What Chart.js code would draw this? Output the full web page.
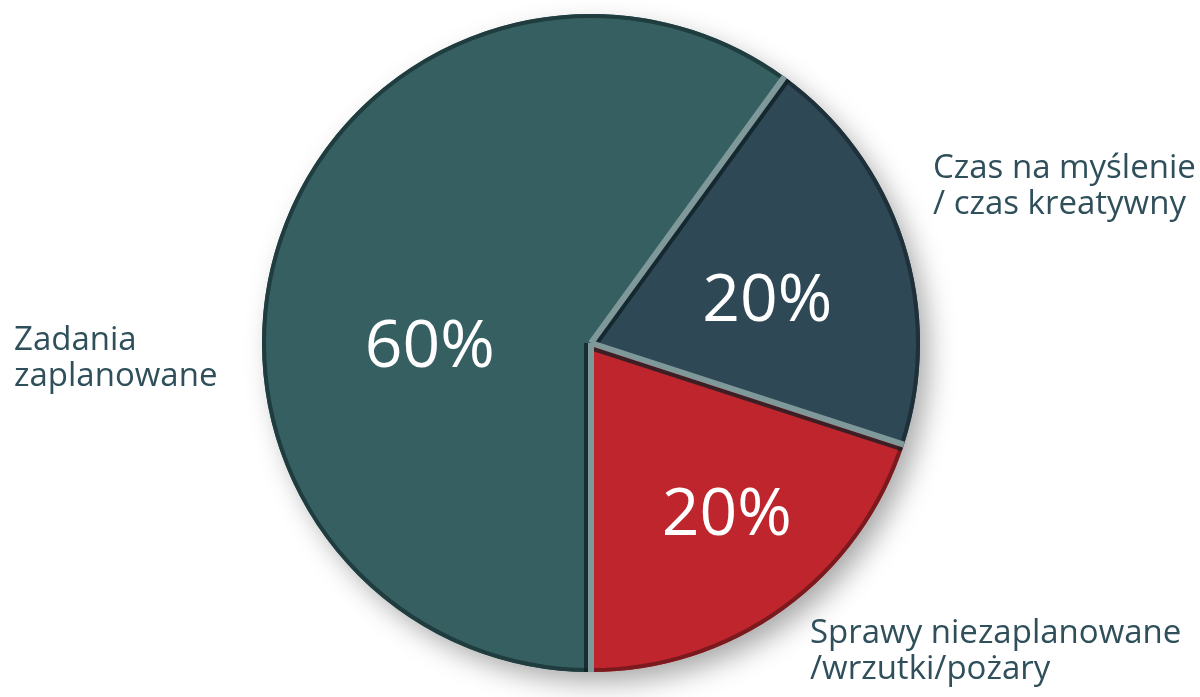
<!DOCTYPE html>
<html lang="pl">
<head>
<meta charset="utf-8">
<script src="https://cdn.jsdelivr.net/npm/chart.js@4.4.1/dist/chart.umd.min.js"></script>
<style>
  html, body { margin: 0; padding: 0; background: #ffffff; }
</style>
</head>
<body>
<canvas id="myPieChart" width="1200" height="697"></canvas>
<script>
// Datos del gráfico
const categories = ['Czas na myślenie / czas kreatywny', 'Sprawy niezaplanowane /wrzutki/pożary', 'Zadania zaplanowane'];
const labelLines = [['Czas na myślenie', '/ czas kreatywny'], ['Sprawy niezaplanowane', '/wrzutki/pożary'], ['Zadania', 'zaplanowane']];
const values = [20, 20, 60];
const percentLabels = ['20%', '20%', '60%'];

// Estilos
const sliceColors = ['#2e4855', '#be252c', '#365f61'];
const rimColors = ['#1e3039', '#7a1a1e', '#1f3c3e'];
const textColor = '#2f4f5b';
const fontFamily = '"Open Sans", "Noto Sans", sans-serif';
// posición de las etiquetas internas (fracción del radio, desplazamiento en grados)
const labelRadius = [0.55, 0.67, 0.49];
const labelShift = [5, -2, -20];
// posición de las etiquetas externas (relativas al centro)
const outerLabelPos = [[342, -165], [219, 300], [-577, 7]];

// Sombra bajo el pastel
const shadowPlugin = {
  id: 'pieShadow',
  beforeDatasetsDraw(chart) {
    const arc = chart.getDatasetMeta(0).data[0];
    if (!arc) return;
    const {x, y, outerRadius} = arc.getProps(['x', 'y', 'outerRadius'], true);
    const ctx = chart.ctx;
    ctx.save();
    ctx.shadowColor = 'rgba(0, 0, 0, 0.35)';
    ctx.shadowBlur = 28;
    ctx.shadowOffsetX = 10;
    ctx.shadowOffsetY = 12;
    ctx.fillStyle = '#365f61';
    ctx.beginPath();
    ctx.arc(x, y, outerRadius - 2, 0, Math.PI * 2);
    ctx.fill();
    ctx.restore();
  }
};

// Borde oscuro, líneas separadoras y textos
const labelsPlugin = {
  id: 'pieLabels',
  afterDatasetsDraw(chart) {
    const ctx = chart.ctx;
    const arcs = chart.getDatasetMeta(0).data;
    ctx.save();
    // borde exterior
    arcs.forEach((arc, i) => {
      const {x, y, startAngle, endAngle, outerRadius} = arc.getProps(['x', 'y', 'startAngle', 'endAngle', 'outerRadius'], true);
      ctx.strokeStyle = rimColors[i];
      ctx.lineWidth = 4;
      ctx.beginPath();
      ctx.arc(x, y, outerRadius - 2, startAngle, endAngle);
      ctx.stroke();
    });
    // separadores (línea oscura + línea clara)
    arcs.forEach(arc => {
      const {x, y, startAngle, outerRadius} = arc.getProps(['x', 'y', 'startAngle', 'outerRadius'], true);
      const ex = x + Math.cos(startAngle) * outerRadius;
      const ey = y + Math.sin(startAngle) * outerRadius;
      const nx = -Math.sin(startAngle), ny = Math.cos(startAngle);
      ctx.strokeStyle = 'rgba(15, 30, 35, 0.75)';
      ctx.lineWidth = 4;
      ctx.beginPath();
      ctx.moveTo(x + nx * 5, y + ny * 5);
      ctx.lineTo(ex + nx * 5, ey + ny * 5);
      ctx.stroke();
      ctx.strokeStyle = '#7f9899';
      ctx.lineWidth = 6;
      ctx.beginPath();
      ctx.moveTo(x, y);
      ctx.lineTo(ex, ey);
      ctx.stroke();
    });
    // porcentajes
    ctx.fillStyle = '#ffffff';
    ctx.font = '66px ' + fontFamily;
    ctx.textAlign = 'center';
    ctx.textBaseline = 'middle';
    arcs.forEach((arc, i) => {
      const {x, y, startAngle, endAngle, outerRadius} = arc.getProps(['x', 'y', 'startAngle', 'endAngle', 'outerRadius'], true);
      const a = (startAngle + endAngle) / 2 + labelShift[i] * Math.PI / 180;
      const r = outerRadius * labelRadius[i];
      ctx.fillText(percentLabels[i], x + Math.cos(a) * r, y + Math.sin(a) * r);
    });
    // etiquetas externas
    ctx.fillStyle = textColor;
    ctx.font = '33px ' + fontFamily;
    ctx.textAlign = 'left';
    ctx.textBaseline = 'alphabetic';
    const c = arcs[0].getProps(['x', 'y'], true);
    labelLines.forEach((lines, i) => {
      lines.forEach((line, j) => {
        ctx.fillText(line, c.x + outerLabelPos[i][0], c.y + outerLabelPos[i][1] + j * 36);
      });
    });
    ctx.restore();
  }
};

const config = {
  type: 'pie',
  data: {
    labels: categories,
    datasets: [{
      data: values,
      backgroundColor: sliceColors,
      borderWidth: 0
    }]
  },
  options: {
    responsive: false,
    animation: false,
    rotation: 36,
    layout: {
      padding: { left: 262, right: 280, top: 14, bottom: 25 }
    },
    plugins: {
      legend: { display: false },
      tooltip: { enabled: false }
    }
  },
  plugins: [shadowPlugin, labelsPlugin]
};

const ctx = document.getElementById('myPieChart').getContext('2d');
new Chart(ctx, config);
</script>
</body>
</html>
